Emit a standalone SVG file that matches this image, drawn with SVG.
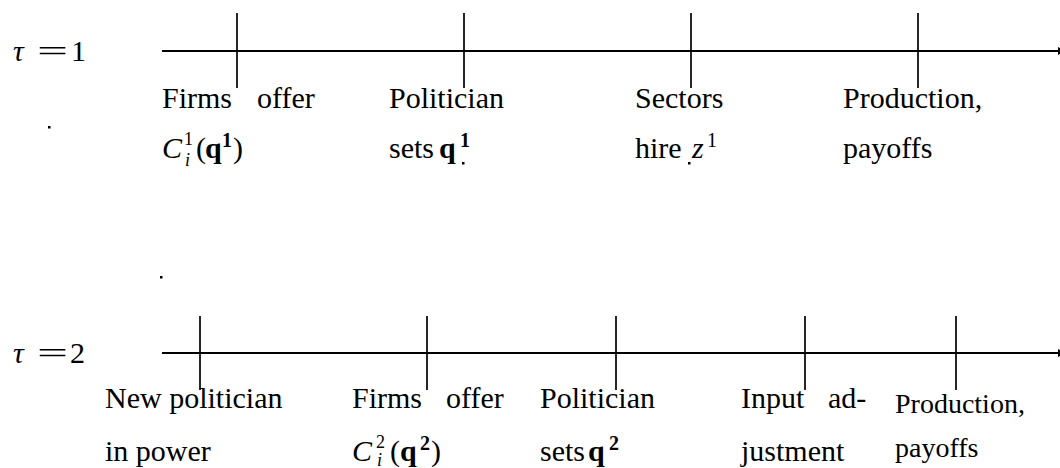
<svg xmlns="http://www.w3.org/2000/svg" width="1060" height="468" viewBox="0 0 1060 468">
<style>
text{fill:#000;font-size:30px}
.it{font-style:italic}
.b{font-weight:bold}
.s{font-size:20px}
.ss{font-size:18px}
.sm{font-size:28px}
.ln{stroke:#000;stroke-width:1.9;fill:none}
.tk{stroke:#000;stroke-width:1.7}
</style>
<defs>
<marker id="ar" markerWidth="10" markerHeight="10" refX="2" refY="5" orient="auto" markerUnits="userSpaceOnUse">
<path d="M0,1 L9,5 L0,9 Z" fill="#000"/>
</marker>
</defs>
<rect width="1060" height="468" fill="#fff"/>
<g id="connectors">
<line class="ln" x1="162" y1="51" x2="1060" y2="51" marker-end="url(#ar)"/>
<line class="tk" x1="237" y1="13" x2="237" y2="88"/>
<line class="tk" x1="464" y1="13" x2="464" y2="88"/>
<line class="tk" x1="691" y1="13" x2="691" y2="88"/>
<line class="tk" x1="918" y1="13" x2="918" y2="88"/>
<line class="ln" x1="162" y1="353" x2="1060" y2="353" marker-end="url(#ar)"/>
<line class="tk" x1="200" y1="316" x2="200" y2="390"/>
<line class="tk" x1="427" y1="316" x2="427" y2="390"/>
<line class="tk" x1="616" y1="316" x2="616" y2="390"/>
<line class="tk" x1="805" y1="316" x2="805" y2="390"/>
<line class="tk" x1="956" y1="316" x2="956" y2="390"/>
</g>
<g font-family="Liberation Serif, Times New Roman, DejaVu Serif, serif">
<g id="tau1">
<text x="13" y="61" class="it">τ</text>
<text x="37" y="61" textLength="31" lengthAdjust="spacingAndGlyphs">=</text>
<text x="71" y="61">1</text>
</g>
<g id="tau2">
<text x="13" y="363" class="it">τ</text>
<text x="37" y="363" textLength="31" lengthAdjust="spacingAndGlyphs">=</text>
<text x="70" y="363">2</text>
</g>
<g id="dots">
<rect x="48" y="126" width="2.5" height="2.5" fill="#000"/>
<rect x="160" y="276" width="2.5" height="2.5" fill="#000"/>
<rect x="462" y="162" width="2.5" height="2.5" fill="#000"/>
<rect x="688" y="162" width="2.5" height="2.5" fill="#000"/>
</g>
<g id="t1-firms">
<text x="162" y="108">Firms</text>
<text x="257" y="108">offer</text>
<text x="162" y="158" class="it">C</text>
<text x="185" y="166" class="it ss">i</text>
<text x="184" y="145" class="ss">1</text>
<text x="196" y="158">(</text>
<text x="205" y="158" class="b">q</text>
<text x="222" y="147" class="b s">1</text>
<text x="233" y="158">)</text>
</g>
<g id="t1-politician">
<text x="389" y="108">Politician</text>
<text x="389" y="158">sets</text>
<text x="439" y="158" class="b">q</text>
<text x="460" y="147" class="b s">1</text>
</g>
<g id="t1-sectors">
<text x="635" y="108">Sectors</text>
<text x="635" y="158">hire</text>
<text x="692" y="158" class="it">z</text>
<text x="707" y="147" class="s">1</text>
</g>
<g id="t1-production">
<text x="843" y="108">Production,</text>
<text x="843" y="158">payoffs</text>
</g>
<g id="t2-new">
<text x="105" y="408">New politician</text>
<text x="105" y="461">in power</text>
</g>
<g id="t2-firms">
<text x="352" y="408">Firms</text>
<text x="446" y="408">offer</text>
<text x="352" y="461" class="it">C</text>
<text x="377" y="466" class="it ss">i</text>
<text x="376" y="448" class="ss">2</text>
<text x="390" y="461">(</text>
<text x="400" y="461" class="b">q</text>
<text x="420" y="450" class="b s">2</text>
<text x="431" y="461">)</text>
</g>
<g id="t2-politician">
<text x="540" y="408">Politician</text>
<text x="540" y="461">sets</text>
<text x="588" y="461" class="b">q</text>
<text x="609" y="450" class="b s">2</text>
</g>
<g id="t2-input">
<text x="741" y="408">Input</text>
<text x="828" y="408">ad-</text>
<text x="741" y="461">justment</text>
</g>
<g id="t2-production">
<text x="895" y="413" class="sm">Production,</text>
<text x="895" y="457" class="sm">payoffs</text>
</g>
</g>
</svg>
